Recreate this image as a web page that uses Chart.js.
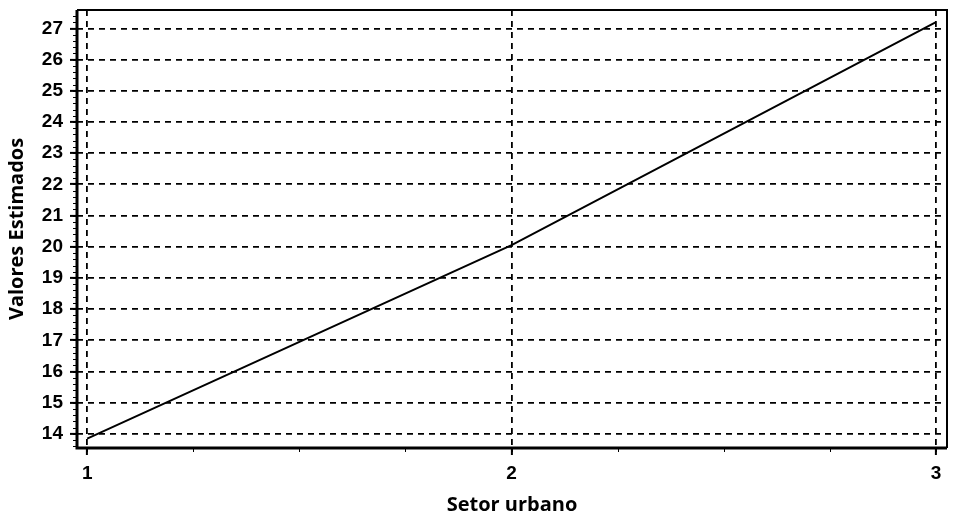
<!DOCTYPE html>
<html>
<head>
<meta charset="utf-8">
<script src="https://cdn.jsdelivr.net/npm/chart.js@4.4.0/dist/chart.umd.min.js"></script>
<style>
  html, body { margin: 0; padding: 0; background: #fff; }
  #wrap { width: 957px; height: 531px; }
</style>
</head>
<body>
<div id="wrap"><canvas id="chart"></canvas></div>
<script>
const setorUrbano = [1, 2, 3];
const valoresEstimados = [13.85, 20.05, 27.2];
const xTicks = [1, 2, 3];
const yTicks = [14, 15, 16, 17, 18, 19, 20, 21, 22, 23, 24, 25, 26, 27];
const xMinorStep = 0.25;
const yMinorStep = 0.2;

// frame round the plot area (thick left/bottom) plus the little minor ticks
const framePlugin = {
    id: 'frame',
    afterDraw(chart) {
        const { ctx, chartArea: a, scales } = chart;
        ctx.save();
        ctx.strokeStyle = '#000';
        ctx.lineWidth = 2;
        ctx.beginPath();
        ctx.moveTo(a.left, a.top);
        ctx.lineTo(a.right, a.top);
        ctx.lineTo(a.right, a.bottom);
        ctx.stroke();
        ctx.lineWidth = 3;
        ctx.beginPath();
        ctx.moveTo(a.left, a.top);
        ctx.lineTo(a.left, a.bottom);
        ctx.lineTo(a.right, a.bottom);
        ctx.stroke();

        ctx.lineWidth = 1;
        ctx.beginPath();
        const xs = scales.x, ys = scales.y;
        for (let v = Math.ceil(xs.min / xMinorStep) * xMinorStep; v <= xs.max; v += xMinorStep) {
            const px = Math.round(xs.getPixelForValue(v)) + 0.5;
            ctx.moveTo(px, a.bottom);
            ctx.lineTo(px, a.bottom + 4);
        }
        for (let v = Math.ceil(ys.min / yMinorStep) * yMinorStep; v <= ys.max; v += yMinorStep) {
            const py = Math.round(ys.getPixelForValue(v)) + 0.5;
            ctx.moveTo(a.left, py);
            ctx.lineTo(a.left - 4, py);
        }
        ctx.stroke();
        ctx.restore();
    }
};

const noPad = s => { s.paddingTop = 0; s.paddingBottom = 0; s.paddingLeft = 0; s.paddingRight = 0; };

const ctx = document.getElementById('chart').getContext('2d');
const chart = new Chart(ctx, {
    type: 'line',
    data: {
        datasets: [{
            label: 'Valores Estimados',
            data: setorUrbano.map((x, i) => ({ x: x, y: valoresEstimados[i] })),
            borderColor: '#000',
            borderWidth: 2,
            pointRadius: 0,
            tension: 0,
            fill: false
        }]
    },
    options: {
        responsive: true,
        maintainAspectRatio: false,
        animation: false,
        layout: { padding: { top: 10, right: 10, left: 0, bottom: 0 } },
        plugins: {
            legend: { display: false },
            tooltip: { enabled: false }
        },
        scales: {
            x: {
                type: 'linear',
                min: 0.976,
                max: 3.026,
                afterBuildTicks: s => { s.ticks = xTicks.map(v => ({ value: v })); },
                afterFit: s => { s.height = 83; noPad(s); },
                grid: {
                    color: '#000',
                    lineWidth: 1.8,
                    drawTicks: true,
                    tickLength: 7,
                    tickColor: '#000',
                    tickWidth: 2
                },
                border: { display: false, dash: [6, 5] },
                ticks: {
                    color: '#000',
                    padding: 7,
                    font: { family: 'Liberation Sans', size: 19, weight: 'bold' },
                    callback: v => String(v)
                },
                title: {
                    display: true,
                    text: 'Setor urbano',
                    color: '#000',
                    padding: { top: 2, bottom: 14 },
                    font: { family: 'Open Sans', size: 20, weight: 'bold' }
                }
            },
            y: {
                min: 13.55,
                max: 27.59,
                afterBuildTicks: s => { s.ticks = yTicks.map(v => ({ value: v })); },
                afterFit: s => { s.width = 77; noPad(s); },
                grid: {
                    color: '#000',
                    lineWidth: 1.8,
                    drawTicks: true,
                    tickLength: 7,
                    tickColor: '#000',
                    tickWidth: 2
                },
                border: { display: false, dash: [6, 5] },
                ticks: {
                    color: '#000',
                    padding: 7,
                    font: { family: 'Liberation Sans', size: 19, weight: 'bold' },
                    callback: v => String(v)
                },
                title: {
                    display: true,
                    text: 'Valores Estimados',
                    color: '#000',
                    padding: { top: 5, bottom: 0 },
                    font: { family: 'Open Sans', size: 20, weight: 'bold' }
                }
            }
        }
    },
    plugins: [framePlugin]
});
</script>
</body>
</html>
